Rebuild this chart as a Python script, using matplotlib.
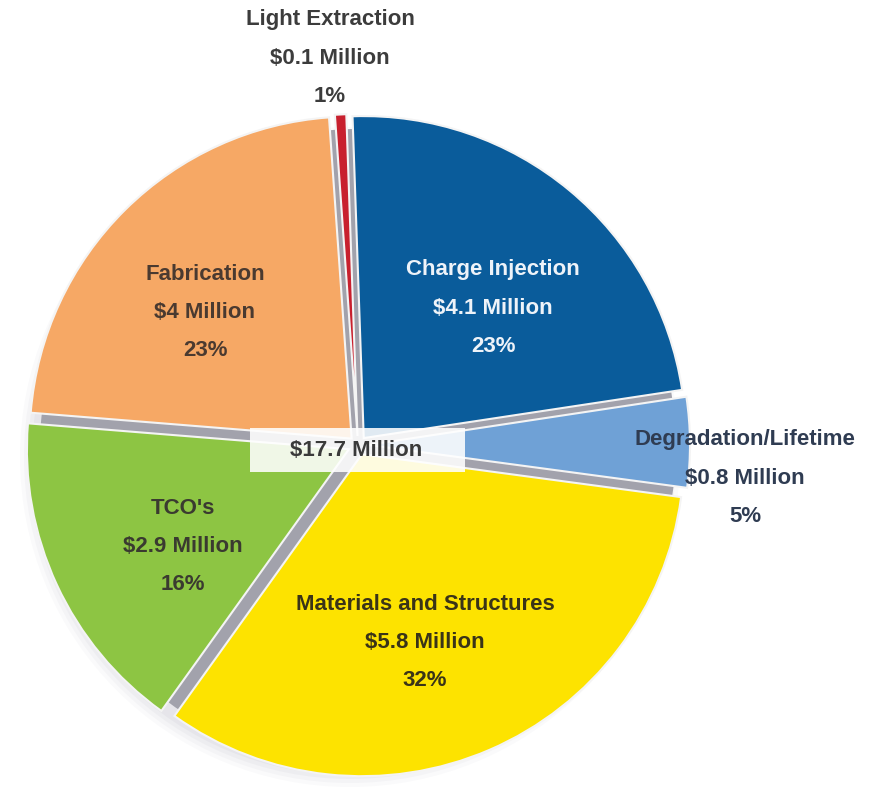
import matplotlib
matplotlib.use("Agg")
import matplotlib.pyplot as plt
from matplotlib.patches import Circle, Rectangle
from matplotlib import font_manager

# Funding by research area (millions of dollars)
categories = ["Charge Injection", "Degradation/Lifetime", "Materials and Structures",
              "TCO's", "Fabrication", "Light Extraction"]
amounts = [4.1, 0.8, 5.8, 2.9, 4.0, 0.1]
amount_labels = ["$4.1 Million", "$0.8 Million", "$5.8 Million",
                 "$2.9 Million", "$4 Million", "$0.1 Million"]
percent_labels = ["23%", "5%", "32%", "16%", "23%", "1%"]
total_label = "$17.7 Million"

colors = ["#0a5c9b", "#6fa1d6", "#fde300", "#8dc543", "#f6a865", "#c8202e"]
text_colors = ["#eef3f9", "#2f3c52", "#3a3418", "#3a3a30", "#4a3a30", "#3c3c3c"]

# pick a narrow bold face if one is available
names = {f.name for f in font_manager.fontManager.ttflist}
family = ["Liberation Sans Narrow", "DejaVu Sans"] if "Liberation Sans Narrow" in names \
    else ["Liberation Sans", "DejaVu Sans"]

W, H = 877, 790
fig = plt.figure(figsize=(W / 100, H / 100), dpi=100)
ax = fig.add_axes([0, 0, 1, 1])


def Y(y):
    return H - y


cx, cy = 358, Y(445)
R = 322

# soft shadow toward the lower left of the pie
for i, a in enumerate([0.04, 0.05, 0.06, 0.07]):
    ax.add_patch(Circle((cx - 8, cy - 12), R + 8 - i * 4, color="#8a88a0",
                        alpha=a, lw=0, zorder=0))
# grey base seen through the gaps
ax.add_patch(Circle((cx, cy - 2), R - 4, color="#a2a2ac", lw=0, zorder=1))

# offsets are in the same units as the radius (pixels here)
explode = [9, 10, 10, 10, 9, 9]
wedges, _ = ax.pie(amounts, colors=colors, startangle=92, counterclock=False,
                   radius=R, center=(cx, cy), explode=explode,
                   wedgeprops=dict(edgecolor="#f4f4f4", linewidth=1.5))
for w in wedges:
    w.set_zorder(2)

# label positions (x centre, y of first line) in pixels
label_pos = {
    "Charge Injection": (493, 270),
    "Degradation/Lifetime": (745, 440),
    "Materials and Structures": (425, 605),
    "TCO's": (183, 508),
    "Fabrication": (205, 275),
    "Light Extraction": (330, 20),
}
step = 38
fs = 16
for name, amt, pct, tc in zip(categories, amount_labels, percent_labels, text_colors):
    x, y = label_pos[name]
    for k, s in enumerate([name, amt, pct]):
        ax.text(x, Y(y + k * step), s, ha="center", va="center", fontsize=fs,
                fontweight="bold", color=tc, family=family, zorder=5)

# total in the middle
ax.add_patch(Rectangle((250, Y(472)), 215, 44, facecolor="white", alpha=0.88,
                       lw=0, zorder=4))
ax.text(356, Y(451), total_label, ha="center", va="center", fontsize=fs,
        fontweight="bold", color="#3a3a3a", family=family, zorder=5)

ax.set_xlim(0, W)
ax.set_ylim(0, H)
ax.set_aspect("equal")
ax.axis("off")
fig.savefig("out.png", dpi=100, facecolor="white")
